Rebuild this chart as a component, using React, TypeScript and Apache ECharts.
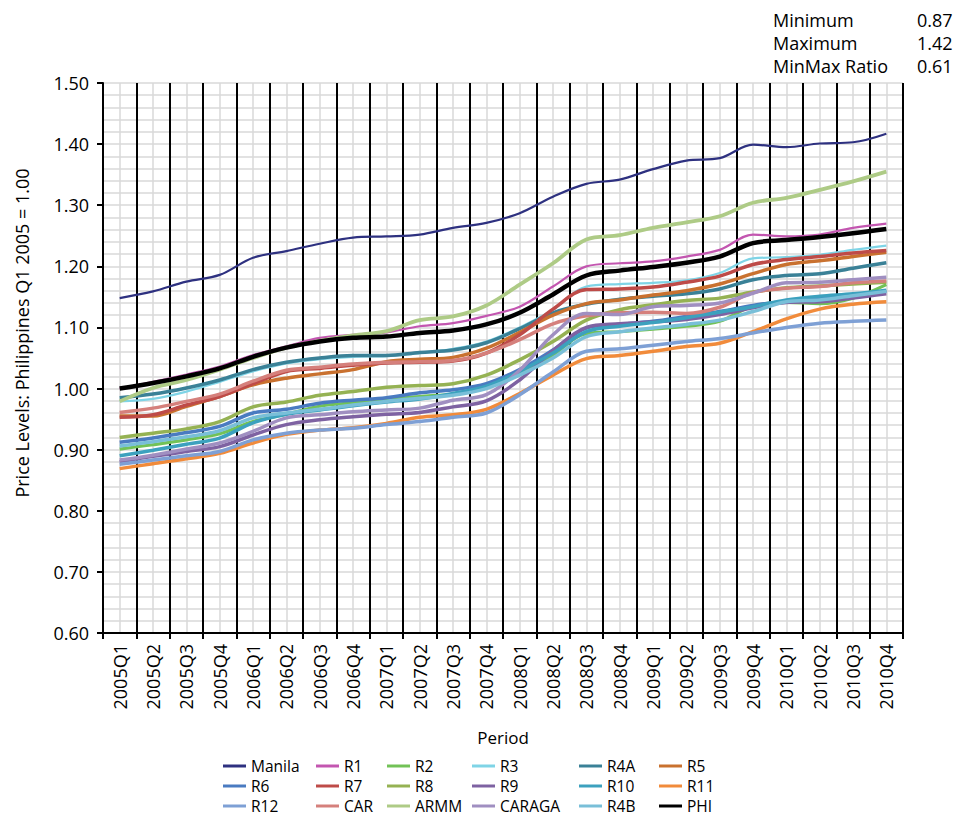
import React, { useEffect, useRef } from "react";
import * as echarts from "echarts";

const quarters = [
  "2005Q1", "2005Q2", "2005Q3", "2005Q4",
  "2006Q1", "2006Q2", "2006Q3", "2006Q4",
  "2007Q1", "2007Q2", "2007Q3", "2007Q4",
  "2008Q1", "2008Q2", "2008Q3", "2008Q4",
  "2009Q1", "2009Q2", "2009Q3", "2009Q4",
  "2010Q1", "2010Q2", "2010Q3", "2010Q4",
];

const manila = [1.148, 1.159, 1.175, 1.186, 1.214, 1.225, 1.237, 1.247, 1.249, 1.252, 1.263, 1.271, 1.287, 1.314, 1.335, 1.342, 1.359, 1.373, 1.377, 1.399, 1.395, 1.401, 1.403, 1.417];
const r1 = [1.000, 1.011, 1.023, 1.036, 1.055, 1.069, 1.083, 1.088, 1.092, 1.102, 1.107, 1.119, 1.134, 1.167, 1.200, 1.205, 1.208, 1.216, 1.227, 1.252, 1.249, 1.252, 1.263, 1.270];
const r2 = [0.901, 0.908, 0.916, 0.926, 0.946, 0.958, 0.971, 0.977, 0.982, 0.987, 0.991, 1.002, 1.025, 1.055, 1.090, 1.093, 1.097, 1.102, 1.110, 1.135, 1.141, 1.139, 1.148, 1.170];
const r3 = [0.979, 0.983, 0.995, 1.011, 1.028, 1.041, 1.048, 1.052, 1.053, 1.058, 1.065, 1.077, 1.100, 1.129, 1.167, 1.171, 1.173, 1.177, 1.189, 1.213, 1.215, 1.219, 1.227, 1.234];
const r4a = [0.985, 0.991, 1.001, 1.014, 1.031, 1.043, 1.050, 1.054, 1.054, 1.059, 1.063, 1.075, 1.098, 1.124, 1.138, 1.146, 1.151, 1.155, 1.163, 1.178, 1.185, 1.188, 1.197, 1.206];
const r5 = [0.955, 0.955, 0.971, 0.987, 1.006, 1.017, 1.024, 1.031, 1.044, 1.048, 1.051, 1.066, 1.092, 1.120, 1.139, 1.145, 1.153, 1.160, 1.171, 1.188, 1.203, 1.209, 1.216, 1.223];
const r6 = [0.912, 0.919, 0.928, 0.938, 0.960, 0.966, 0.976, 0.981, 0.985, 0.993, 0.998, 1.008, 1.031, 1.063, 1.099, 1.105, 1.110, 1.118, 1.126, 1.136, 1.143, 1.148, 1.153, 1.159];
const r7 = [0.953, 0.957, 0.973, 0.987, 1.008, 1.028, 1.033, 1.038, 1.042, 1.043, 1.045, 1.058, 1.088, 1.130, 1.162, 1.163, 1.166, 1.174, 1.184, 1.203, 1.211, 1.216, 1.222, 1.226];
const r8 = [0.920, 0.927, 0.934, 0.946, 0.970, 0.978, 0.989, 0.995, 1.002, 1.005, 1.008, 1.022, 1.047, 1.077, 1.112, 1.129, 1.137, 1.144, 1.148, 1.158, 1.165, 1.168, 1.171, 1.174];
const r9 = [0.880, 0.889, 0.897, 0.905, 0.924, 0.941, 0.949, 0.954, 0.958, 0.961, 0.970, 0.980, 1.014, 1.062, 1.100, 1.106, 1.109, 1.113, 1.121, 1.132, 1.141, 1.142, 1.148, 1.155];
const r10 = [0.890, 0.899, 0.909, 0.919, 0.944, 0.958, 0.965, 0.972, 0.978, 0.983, 0.992, 1.004, 1.028, 1.058, 1.093, 1.102, 1.108, 1.116, 1.125, 1.134, 1.145, 1.151, 1.155, 1.161];
const r11 = [0.869, 0.877, 0.885, 0.894, 0.911, 0.925, 0.932, 0.936, 0.943, 0.953, 0.957, 0.966, 0.992, 1.022, 1.049, 1.054, 1.061, 1.069, 1.074, 1.093, 1.114, 1.130, 1.138, 1.142];
const r12 = [0.876, 0.883, 0.890, 0.897, 0.916, 0.927, 0.932, 0.935, 0.941, 0.946, 0.953, 0.960, 0.990, 1.027, 1.061, 1.065, 1.071, 1.077, 1.082, 1.091, 1.100, 1.107, 1.110, 1.112];
const car = [0.961, 0.968, 0.979, 0.991, 1.012, 1.030, 1.035, 1.040, 1.043, 1.044, 1.046, 1.058, 1.080, 1.106, 1.119, 1.124, 1.125, 1.123, 1.133, 1.157, 1.164, 1.167, 1.173, 1.176];
const armm = [0.979, 1.001, 1.014, 1.031, 1.050, 1.067, 1.078, 1.087, 1.094, 1.112, 1.118, 1.136, 1.170, 1.205, 1.244, 1.251, 1.263, 1.272, 1.282, 1.304, 1.312, 1.325, 1.339, 1.355];
const caraga = [0.883, 0.891, 0.901, 0.911, 0.930, 0.952, 0.957, 0.962, 0.965, 0.968, 0.981, 0.990, 1.030, 1.088, 1.123, 1.121, 1.134, 1.136, 1.140, 1.156, 1.173, 1.174, 1.178, 1.182];
const r4b = [0.906, 0.913, 0.921, 0.931, 0.952, 0.960, 0.966, 0.973, 0.979, 0.984, 0.989, 1.000, 1.022, 1.050, 1.085, 1.093, 1.099, 1.105, 1.112, 1.126, 1.142, 1.145, 1.152, 1.159];
const phi = [1.000, 1.009, 1.020, 1.033, 1.052, 1.067, 1.077, 1.083, 1.085, 1.091, 1.095, 1.105, 1.124, 1.154, 1.185, 1.193, 1.199, 1.206, 1.216, 1.238, 1.243, 1.248, 1.254, 1.261];

const statLabels = ["Minimum", "Maximum", "MinMax Ratio"];
const statValues = ["0.87", "1.42", "0.61"];

const seriesNames = ["Manila", "R1", "R2", "R3", "R4A", "R5", "R6", "R7", "R8", "R9", "R10", "R11", "R12", "CAR", "ARMM", "CARAGA", "R4B", "PHI"];
const seriesData = [manila, r1, r2, r3, r4a, r5, r6, r7, r8, r9, r10, r11, r12, car, armm, caraga, r4b, phi];

const colors = ["#2E3180", "#C356B0", "#72C257", "#7FD4E6", "#3A8197", "#C9712F", "#4A7BC1", "#BE4B48", "#95B253", "#7E62A2", "#3CA1BE", "#F18B3B", "#7EA0D5", "#D5807C", "#AECB86", "#A08FC1", "#79BFD8", "#000000"];
const widths = [2.2, 2.2, 3.2, 2.2, 3.5, 3.5, 3.5, 3.5, 3.5, 3.5, 3.5, 3.5, 3.5, 3.5, 3.8, 3.5, 3.5, 4.5];

// legend grid: rows x columns (reading order of the reference legend)
const legendRows = [
  ["Manila", "R1", "R2", "R3", "R4A", "R5"],
  ["R6", "R7", "R8", "R9", "R10", "R11"],
  ["R12", "CAR", "ARMM", "CARAGA", "R4B", "PHI"],
];
const legendLefts = [223, 316, 387, 472, 579, 659];
const legendTops = [758, 778, 798];

const FONT = "'Open Sans', 'Noto Sans', sans-serif";
const GRID_GRAY = "#D9D9D9";

export default function App() {
  const ref = useRef<HTMLDivElement>(null);

  useEffect(() => {
    if (!ref.current) return;
    const chart = echarts.init(ref.current, null, { renderer: "svg" });

    const series = seriesNames.map((name, i) => ({
      name,
      type: "line",
      data: seriesData[i],
      xAxisIndex: 0,
      yAxisIndex: 1,
      smooth: 0.35,
      symbol: "none",
      showSymbol: false,
      z: 3,
      lineStyle: { color: colors[i], width: widths[i] },
      itemStyle: { color: colors[i] },
      emphasis: { disabled: true },
    }));

    const legends: any[] = [];
    legendRows.forEach((row, ri) => {
      row.forEach((name, ci) => {
        legends.push({
          data: [name],
          orient: "horizontal",
          left: legendLefts[ci],
          top: legendTops[ri],
          padding: 0,
          itemGap: 0,
          itemWidth: 23,
          itemHeight: 3,
          icon: "rect",
          selectedMode: false,
          textStyle: { fontFamily: FONT, fontSize: 15.5, lineHeight: 16, color: "#000" },
        });
      });
    });

    const graphics: any[] = [
      {
        type: "text",
        x: 22,
        y: 333,
        rotation: Math.PI / 2,
        style: {
          text: "Price Levels: Philippines Q1 2005 = 1.00",
          fontFamily: FONT,
          fontSize: 18,
          fill: "#000",
          align: "center",
          verticalAlign: "middle",
          textAlign: "center",
          textVerticalAlign: "middle",
        },
      },
    ];
    statLabels.forEach((lab, i) => {
      graphics.push({
        type: "text",
        x: 773,
        y: 20 + i * 23,
        style: { text: lab, fontFamily: FONT, fontSize: 18, fill: "#000", verticalAlign: "middle", textVerticalAlign: "middle" },
      });
      graphics.push({
        type: "text",
        x: 917,
        y: 20 + i * 23,
        style: { text: statValues[i], fontFamily: FONT, fontSize: 18, fill: "#000", verticalAlign: "middle", textVerticalAlign: "middle" },
      });
    });

    chart.setOption({
      animation: false,
      backgroundColor: "#fff",
      textStyle: { fontFamily: FONT },
      grid: { left: 103, right: 52, top: 83, bottom: 185, containLabel: false },
      xAxis: [
        {
          type: "category",
          data: quarters,
          position: "bottom",
          boundaryGap: true,
          z: 1,
          axisLine: { show: true, lineStyle: { color: "#000", width: 2 } },
          axisTick: { show: true, interval: 0, length: 6, lineStyle: { color: "#000", width: 2 } },
          axisLabel: { interval: 0, rotate: 90, margin: 11, fontFamily: FONT, fontSize: 18, color: "#000" },
          splitLine: { show: true, interval: 0, lineStyle: { color: "#000", width: 2 } },
          name: "Period",
          nameLocation: "middle",
          nameGap: 96,
          nameTextStyle: { fontFamily: FONT, fontSize: 17, color: "#000" },
        },
        {
          type: "value",
          position: "top",
          min: 0,
          max: 48,
          interval: 1,
          z: 0,
          axisLine: { show: false },
          axisTick: { show: false },
          axisLabel: { show: false },
          splitLine: { show: true, lineStyle: { color: GRID_GRAY, width: 1.5 } },
        },
      ],
      yAxis: [
        {
          type: "value",
          position: "right",
          min: 0.6,
          max: 1.5,
          interval: 0.02,
          z: 0,
          axisLine: { show: false },
          axisTick: { show: false },
          axisLabel: { show: false },
          splitLine: { show: true, lineStyle: { color: GRID_GRAY, width: 1.5 } },
        },
        {
          type: "value",
          position: "left",
          min: 0.6,
          max: 1.5,
          interval: 0.1,
          z: 2,
          axisLine: { show: true, lineStyle: { color: "#000", width: 2 } },
          axisTick: { show: true, length: 6, lineStyle: { color: "#000", width: 2 } },
          axisLabel: {
            margin: 14,
            fontFamily: FONT,
            fontSize: 18,
            color: "#000",
            formatter: (v: number) => v.toFixed(2),
          },
          splitLine: { show: false },
        },
      ],
      legend: legends,
      graphic: graphics,
      series,
    });

    return () => chart.dispose();
  }, []);

  return (
    <div
      ref={ref}
      style={{ position: "fixed", left: 0, top: 0, width: 955, height: 818, background: "#fff" }}
    />
  );
}
